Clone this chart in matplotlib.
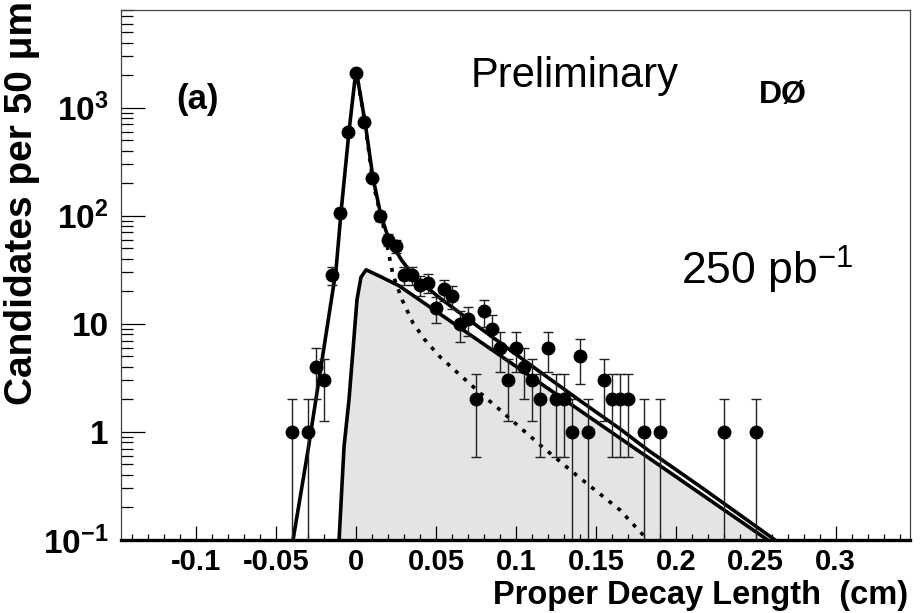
import numpy as np
import matplotlib
matplotlib.use("Agg")
import matplotlib.pyplot as plt
from matplotlib.ticker import FixedLocator, MultipleLocator, NullFormatter

# ---------------- data ----------------
bin_centers = [-0.04, -0.03, -0.025, -0.02, -0.015, -0.01, -0.005, 0.0, 0.005, 0.01,
               0.015, 0.02, 0.025, 0.03, 0.035, 0.04, 0.045, 0.05, 0.055, 0.06,
               0.065, 0.07, 0.075, 0.08, 0.085, 0.09, 0.095, 0.1, 0.105, 0.11,
               0.115, 0.12, 0.125, 0.13, 0.135, 0.14, 0.145, 0.155, 0.16, 0.165,
               0.17, 0.18, 0.19, 0.23, 0.25]
counts = [1, 1, 4, 3, 28, 107, 600, 2100, 740, 224,
          100, 60, 52, 28, 28, 23, 24, 14, 21, 18,
          10, 11, 2, 13, 9, 6, 3, 6, 4, 3,
          2, 6, 2, 2, 1, 5, 1, 3, 2, 2,
          2, 1, 1, 1, 1]

# total fit curve (control points)
total_x = [-0.0394, -0.030, -0.0125, -0.0094, -0.0044, 0.0, 0.0056, 0.0106, 0.0156,
           0.0206, 0.0288, 0.0356, 0.0431, 0.0525, 0.065, 0.0775, 0.09, 0.115,
           0.14, 0.165, 0.1825, 0.2156, 0.2625]
total_y = [0.1, 0.68, 31.6, 107, 600, 2240, 741, 224, 100,
           60, 38.2, 28.5, 22.5, 17.3, 12.6, 9.15, 6.7, 3.6,
           1.95, 1.07, 0.68, 0.31, 0.099]

# signal component (filled)
sig_x = [-0.0106, -0.0075, -0.0044, -0.0019, 0.0006, 0.0031, 0.0063, 0.0156, 0.0269, 0.2575]
sig_y = [0.1, 0.73, 1.98, 5.7, 16.7, 27, 31.6, 27.2, 22.5, 0.1]

# background component (dotted)
bkg_x = [0.0, 0.0056, 0.0106, 0.0169, 0.0231, 0.0288, 0.0356, 0.0431, 0.0525, 0.065,
         0.0775, 0.09, 0.115, 0.14, 0.165, 0.1825, 0.1865]
bkg_y = [2240, 720, 200, 82.6, 28.4, 16.7, 10.2, 7.1, 4.95, 3.37,
         2.30, 1.60, 0.76, 0.375, 0.19, 0.1, 0.09]

x_ticks = [-0.1, -0.05, 0, 0.05, 0.1, 0.15, 0.2, 0.25, 0.3]
x_ticklabels = ["-0.1", "-0.05", "0", "0.05", "0.1", "0.15", "0.2", "0.25", "0.3"]
y_ticks = [0.1, 1, 10, 100, 1000]
y_ticklabels = [r"$\mathbf{10^{-1}}$", "1", "10", r"$\mathbf{10^{2}}$", r"$\mathbf{10^{3}}$"]

# ---------------- style ----------------
plt.rcParams['font.family'] = ['Liberation Sans', 'DejaVu Sans']
plt.rcParams['mathtext.fontset'] = 'custom'
plt.rcParams['mathtext.rm'] = 'Liberation Sans'
plt.rcParams['mathtext.bf'] = 'Liberation Sans:bold'
plt.rcParams['mathtext.it'] = 'Liberation Sans:italic'

W, H = 923, 613
fig = plt.figure(figsize=(W / 100, H / 100), dpi=100)
ax = fig.add_axes([121 / W, 1 - 540 / H, (910 - 121) / W, (540 - 10) / H])
ax.set_yscale('log')
ax.set_xlim(-0.147, 0.3465)
ax.set_ylim(0.1, 8000)

cx = np.array(counts, dtype=float)
err_up = np.sqrt(cx)
err_lo = np.minimum(np.sqrt(cx), cx - 1e-4)

ax.fill_between(sig_x, sig_y, 0.1, color='#e4e4e4', lw=0, zorder=1)
ax.plot(sig_x, sig_y, color='black', lw=2.6, zorder=3, solid_joinstyle='round')
ax.plot(bkg_x, bkg_y, color='black', lw=2.6, ls=(0, (1.1, 2.0)), zorder=3)
ax.plot(total_x, total_y, color='black', lw=2.6, zorder=3, solid_joinstyle='round')
ax.errorbar(bin_centers, counts, yerr=[err_lo, err_up], fmt='o', color='black',
            ecolor='#222222', elinewidth=1.0, capsize=3.5, capthick=1.0,
            markersize=9, zorder=5)

# axes decoration
for s in ['top', 'right', 'left']:
    ax.spines[s].set_linewidth(0.9)
    ax.spines[s].set_color('#444444')
ax.spines['bottom'].set_linewidth(2.4)
ax.spines['bottom'].set_color('black')

ax.xaxis.set_major_locator(FixedLocator(x_ticks))
ax.set_xticklabels(x_ticklabels, fontsize=21, fontweight='bold')
ax.xaxis.set_minor_locator(MultipleLocator(0.01))
ax.yaxis.set_major_locator(FixedLocator(y_ticks))
ax.set_yticklabels(y_ticklabels, fontsize=24, fontweight='bold')
ax.yaxis.set_minor_locator(matplotlib.ticker.LogLocator(base=10, subs=np.arange(2, 10)))
ax.yaxis.set_minor_formatter(NullFormatter())
ax.tick_params(axis='x', which='major', direction='in', length=10, width=0.9, pad=6,
               bottom=True, top=False)
ax.tick_params(axis='x', which='minor', direction='in', length=4.5, width=0.9,
               bottom=True, top=False)
ax.tick_params(axis='y', which='major', direction='in', length=17, width=0.9, pad=9,
               left=True, right=False)
ax.tick_params(axis='y', which='minor', direction='in', length=8.5, width=0.9,
               left=True, right=False)

fig.text(908 / W, 1 - 604 / H, "Proper Decay Length  (cm)", fontsize=23.5,
         fontweight='bold', ha='right', va='baseline')
fig.text(22 / W, 1 - 1 / H, "Candidates per 50 μm", fontsize=28, fontweight='bold',
         rotation=90, ha='center', va='top')

fig.text(198 / W, 1 - 99 / H, "(a)", fontsize=25, fontweight='bold', ha='center', va='center')
fig.text(575 / W, 1 - 76 / H, "Preliminary", fontsize=30, ha='center', va='center')
fig.text(783 / W, 1 - 95 / H, "DØ", fontsize=23, fontweight='bold', ha='center', va='center')
fig.text(767 / W, 1 - 270 / H, r"250 pb$^{\mathregular{-1}}$", fontsize=32, ha='center', va='center')

fig.savefig("out.png", dpi=100)
